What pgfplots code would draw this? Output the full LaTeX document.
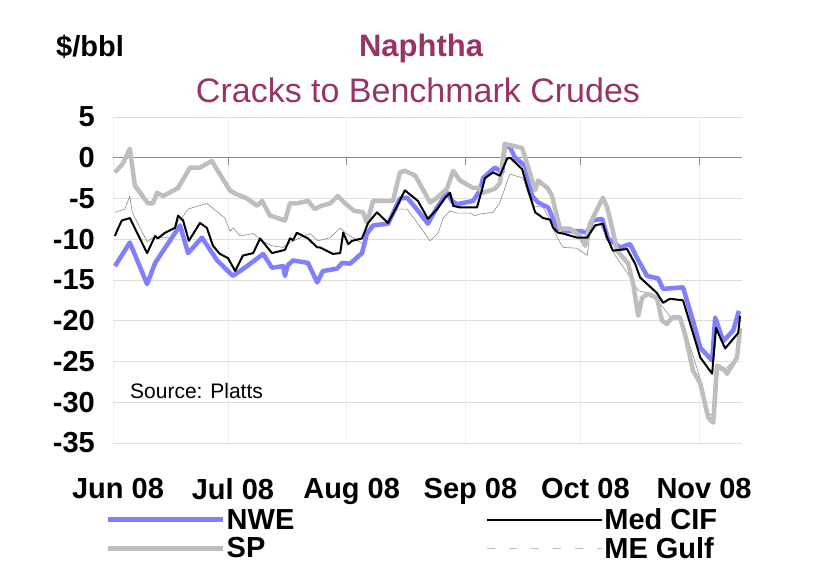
\documentclass[border=0pt]{standalone}
\usepackage{pgfplots}
\pgfplotsset{compat=1.18}
\usepackage{fontspec}
\setmainfont{Liberation Sans}
\definecolor{nwe}{RGB}{128,128,255}
\definecolor{spg}{RGB}{190,190,190}
\definecolor{meg}{RGB}{140,140,140}
\definecolor{ttl}{RGB}{153,51,102}
\newcommand{\bigf}{\fontsize{29bp}{32bp}\selectfont}

\begin{document}
\begin{tikzpicture}
\useasboundingbox (0,0) rectangle (840bp,580bp);
\begin{axis}[
 at={(113bp,137bp)}, anchor=south west,
 scale only axis, width=629bp, height=326bp,
 xmin=0, xmax=164.2, ymin=-35, ymax=5,
 axis line style={draw=none},
 tick style={draw=none},
 xtick={0,30,61,92,122,153},
 xticklabels={Jun 08,Jul 08,Aug 08,Sep 08,Oct 08,Nov 08},
 ytick={-35,-30,-25,-20,-15,-10,-5,0,5},
 yticklabels={-35,-30,-25,-20,-15,-10,-5,0,5},
 ymajorgrids, xmajorgrids,
 y grid style={black!13, line width=0.7bp},
 x grid style={black!6, line width=0.7bp},
 ticklabel style={font=\bfseries\bigf},
 yticklabel style={inner sep=0pt, anchor=east, xshift=-18bp},
 xticklabel style={inner sep=0pt, anchor=north, yshift=-35bp, xshift=5bp},
 line join=round,
 legend columns=2,
 legend cell align=left,
 legend style={at={(axis description cs:0,0)}, anchor=north west,
   xshift=-8bp, yshift=-64bp, draw=none, fill=none,
   font=\bfseries\bigf, inner sep=0pt,
   nodes={inner sep=1.5bp},
   row sep=3bp,
   /tikz/every even column/.append style={column sep=190bp}},
 legend image code/.code={\draw[#1] (0bp,0bp) -- (115bp,0bp);},
]
\draw[black!45, line width=0.8bp] (axis cs:0,0) -- (axis cs:164.2,0);
\pgfplotsinvokeforeach{30,61,92,122,153}{\draw[black!45, line width=0.8bp] (axis cs:#1,0) -- ([yshift=-7bp]axis cs:#1,0);}

\addlegendimage{nwe, line width=5bp}
\addlegendimage{black, line width=2bp}
\addlegendimage{spg, line width=5bp}
\addlegendimage{black!25, line width=0.8bp, dash pattern=on 8bp off 14bp}
\legend{NWE, Med CIF, SP, ME Gulf}

% ME Gulf
\addplot[meg, line width=0.6bp, forget plot] table {
0.5 -6.7
3.1 -6.3
4.4 -4.7
5.0 -6.7
8.9 -10.3
10.4 -9.8
15.7 -9.8
17.0 -7.7
18.0 -7.4
19.6 -6.3
24.5 -5.6
29.2 -7.4
30.5 -9.0
31.3 -8.6
33.2 -9.6
36.6 -9.3
38.9 -10.2
41.5 -10.8
44.4 -11.0
46.2 -10.4
48.0 -10.0
51.4 -9.3
53.5 -10.2
56.7 -9.8
59.3 -8.6
60.6 -9.2
62.7 -9.8
65.3 -10.6
67.1 -8.3
68.9 -8.0
71.5 -8.3
74.2 -6.3
76.8 -6.3
79.6 -8.1
82.8 -10.2
84.9 -9.2
86.2 -7.4
88.0 -6.5
89.8 -6.8
93.2 -6.8
94.5 -7.1
95.8 -6.9
99.2 -6.7
101.0 -5.5
103.1 -2.6
103.7 -2.0
105.0 -2.2
107.0 -2.5
108.4 -4.4
109.7 -5.9
112.3 -6.1
114.1 -7.7
115.4 -9.2
116.7 -10.4
117.5 -11.0
121.1 -11.1
123.8 -12.0
124.5 -9.3
126.4 -8.3
127.2 -8.1
131.1 -12.0
134.2 -14.1
137.1 -16.3
139.4 -16.6
140.2 -16.8
142.8 -17.9
146.0 -19.8
148.0 -19.8
149.9 -22.0
154.0 -28.2
155.4 -31.4
156.4 -31.6
157.2 -25.8
159.3 -26.2
162.9 -24.5
163.4 -23.6
};

% NWE
\addplot[nwe, line width=4.5bp, forget plot] table {
0.5 -13.3
4.4 -10.4
8.9 -15.5
11.0 -12.9
17.5 -8.3
19.6 -11.7
23.2 -9.8
27.2 -12.6
31.3 -14.5
35.0 -13.3
39.2 -11.8
41.5 -13.5
44.4 -13.3
44.9 -14.5
45.6 -13.2
47.0 -12.6
50.9 -12.9
53.3 -15.3
54.8 -13.9
58.5 -13.6
59.8 -12.9
61.9 -13.0
65.0 -11.7
66.3 -9.3
67.9 -8.3
71.8 -8.1
74.9 -5.0
76.8 -4.9
79.6 -6.5
82.2 -8.1
84.6 -6.1
87.2 -4.3
88.5 -5.3
89.8 -5.7
94.0 -5.3
95.8 -4.0
96.6 -2.5
99.7 -1.2
101.6 -1.8
102.3 1.7
103.7 1.2
105.0 0.0
107.6 -1.0
109.4 -4.7
111.0 -5.5
113.6 -6.1
115.9 -8.6
118.5 -9.0
121.9 -9.0
123.8 -9.2
125.1 -7.7
127.7 -7.5
129.2 -9.9
132.4 -11.0
135.0 -10.6
136.8 -12.3
139.4 -14.5
142.3 -14.8
143.6 -16.1
146.0 -16.0
148.8 -15.9
151.4 -20.0
153.3 -23.3
156.4 -24.9
157.2 -19.6
159.3 -22.5
161.9 -21.2
163.4 -18.8
};

% SP
\addplot[spg, line width=4.5bp, forget plot] table {
0.5 -1.8
2.6 -0.7
4.4 1.1
5.7 -3.4
9.1 -5.6
10.4 -5.6
11.5 -4.3
13.1 -4.7
17.0 -3.7
20.1 -1.2
22.7 -1.2
25.8 -0.4
30.5 -4.0
31.9 -4.4
35.0 -5.0
37.6 -5.9
38.9 -5.3
41.0 -7.1
44.9 -7.7
46.2 -5.6
48.0 -5.6
50.9 -5.3
52.7 -6.3
54.3 -5.9
56.7 -5.6
58.7 -4.7
60.6 -5.6
62.9 -6.5
65.3 -6.7
66.3 -8.0
67.9 -5.3
73.1 -5.3
74.9 -1.8
76.2 -1.6
78.9 -2.2
82.8 -5.5
84.6 -4.9
87.2 -3.8
88.8 -1.6
90.6 -2.8
94.0 -3.7
95.3 -3.7
96.6 -4.3
99.7 -3.8
101.0 -3.1
102.3 1.7
106.8 1.2
108.4 -1.2
110.2 -4.0
111.0 -2.8
113.6 -3.8
114.6 -4.7
116.7 -8.7
119.3 -8.7
121.9 -9.6
123.2 -10.8
124.5 -8.1
127.9 -4.9
129.0 -6.1
130.5 -9.0
131.6 -11.4
134.5 -13.0
135.8 -15.5
137.1 -19.4
138.1 -17.2
139.7 -16.7
142.0 -17.2
143.3 -20.0
144.6 -20.4
146.0 -19.6
148.0 -19.6
149.3 -21.6
151.4 -26.1
153.3 -27.7
155.4 -31.9
156.7 -32.5
157.7 -25.5
159.3 -25.9
160.3 -26.5
162.9 -24.5
163.7 -20.9
};

% Med CIF
\addplot[black, line width=2bp, forget plot] table {
0.5 -9.6
1.3 -8.7
2.3 -7.7
4.4 -7.4
8.9 -11.7
11.0 -9.6
11.7 -9.9
13.6 -9.2
16.2 -8.6
17.0 -7.1
18.3 -7.7
19.8 -10.2
22.7 -8.0
24.5 -8.6
26.1 -10.8
27.9 -11.8
30.0 -12.3
31.9 -13.9
33.9 -12.0
36.6 -11.7
38.4 -9.9
41.5 -11.7
44.9 -11.3
46.2 -9.9
47.0 -10.1
48.0 -9.2
50.9 -9.9
53.3 -11.0
54.0 -11.0
57.4 -11.8
59.3 -11.7
60.1 -9.2
61.4 -10.6
62.4 -10.2
65.0 -9.9
66.6 -8.0
68.9 -6.7
71.8 -8.0
74.2 -5.9
76.2 -4.0
79.6 -5.3
82.2 -7.5
84.6 -6.3
86.7 -4.9
88.0 -4.3
88.8 -5.9
90.6 -6.1
95.0 -6.1
96.3 -4.0
97.1 -2.5
99.2 -1.8
101.0 -2.2
102.9 -0.1
103.7 0.0
106.8 -1.4
108.4 -4.0
110.2 -6.7
112.3 -7.4
114.1 -7.6
114.9 -8.6
116.2 -9.2
117.5 -9.3
121.1 -9.8
123.8 -9.8
125.8 -8.3
127.9 -8.1
129.0 -9.8
130.5 -11.4
134.2 -11.2
136.3 -13.0
137.6 -14.7
142.0 -16.6
143.6 -17.8
145.4 -17.3
148.8 -17.5
151.4 -21.5
153.3 -24.5
156.4 -26.5
157.4 -20.9
159.8 -23.4
163.2 -21.5
163.7 -19.4
};
\end{axis}
\node[anchor=base, font=\bfseries\fontsize{31bp}{34bp}\selectfont, text=ttl] at (421bp,523bp) {Naphtha};
\node[anchor=base, font=\fontsize{34bp}{38bp}\selectfont, text=ttl] at (418bp,477bp) {Cracks to Benchmark Crudes};
\node[anchor=base, font=\bfseries\bigf] at (90bp,523bp) {\$/bbl};
\node[anchor=base west, inner sep=0pt, font=\fontsize{21bp}{24bp}\selectfont] at (130bp,181bp) {Source: Platts};
\end{tikzpicture}
\end{document}
